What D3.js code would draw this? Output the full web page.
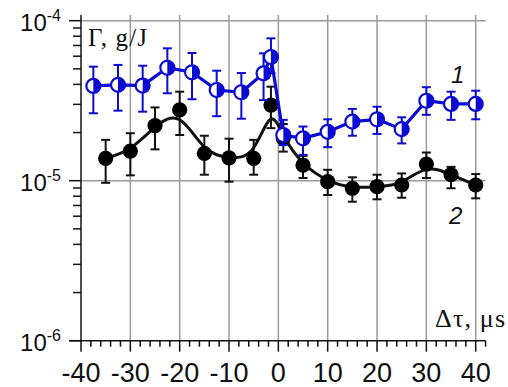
<!DOCTYPE html>
<html>
<head>
<meta charset="utf-8">
<script src="https://cdn.jsdelivr.net/npm/d3@7"></script>
<style>
  body { margin: 0; background: #fff; }
  svg { display: block; }
</style>
</head>
<body>
<div id="chart"></div>
<script>
// curve 1 (blue, half-filled circles)
const blueX = [-37.5, -32.5, -27.5, -22.5, -17.5, -12.5, -7.5, -3, -1.5, 1, 5, 10, 15, 20, 25, 30, 35, 40];
const blueY = [3.91e-5, 3.97e-5, 3.93e-5, 5.08e-5, 4.76e-5, 3.69e-5, 3.57e-5, 4.69e-5, 5.93e-5, 1.93e-5, 1.84e-5, 2.02e-5, 2.34e-5, 2.42e-5, 2.10e-5, 3.16e-5, 3.02e-5, 3.02e-5];
const blueHi = [5.16e-5, 5.29e-5, 5.23e-5, 6.72e-5, 6.28e-5, 4.87e-5, 4.71e-5, 6.25e-5, 7.76e-5, 2.40e-5, 2.18e-5, 2.42e-5, 2.81e-5, 2.90e-5, 2.49e-5, 3.84e-5, 3.60e-5, 3.65e-5];
const blueLo = [2.64e-5, 2.74e-5, 2.70e-5, 3.52e-5, 3.23e-5, 2.53e-5, 2.44e-5, 3.19e-5, 4.71e-5, 1.67e-5, 1.45e-5, 1.62e-5, 1.91e-5, 1.96e-5, 1.71e-5, 2.58e-5, 2.40e-5, 2.42e-5];

// curve 2 (black, filled circles, smoothed line)
const blackX = [-35, -30, -25, -20, -15, -10, -5, -1.5, 1, 5, 10, 15, 20, 25, 30, 35, 40];
const blackY = [1.38e-5, 1.53e-5, 2.21e-5, 2.77e-5, 1.48e-5, 1.39e-5, 1.38e-5, 2.97e-5, 1.84e-5, 1.25e-5, 9.86e-6, 8.97e-6, 9.18e-6, 9.40e-6, 1.27e-5, 1.09e-5, 9.40e-6];
const blackHi = [1.80e-5, 1.98e-5, 2.87e-5, 3.60e-5, 1.91e-5, 1.83e-5, 1.80e-5, 3.87e-5, 2.26e-5, 1.43e-5, 1.17e-5, 1.05e-5, 1.09e-5, 1.11e-5, 1.50e-5, 1.22e-5, 1.10e-5];
const blackLo = [9.7e-6, 1.08e-5, 1.57e-5, 1.93e-5, 1.09e-5, 9.86e-6, 1.09e-5, 2.13e-5, 1.52e-5, 1.04e-5, 8.14e-6, 7.39e-6, 7.65e-6, 7.83e-6, 1.04e-5, 8.97e-6, 7.76e-6];

const xTicks = [-40, -30, -20, -10, 0, 10, 20, 30, 40];
const yDecades = [-6, -5, -4];

const width = 508, height = 387;
const blue = "#0b0bd2";

const svg = d3.select("#chart").append("svg")
  .attr("width", width)
  .attr("height", height);

const x = d3.scaleLinear().domain([-40, 40]).range([81, 475.7]);
const y = d3.scaleLog().domain([1e-6, 1e-4]).range([340.7, 20.7]);

// grid
const grid = svg.append("g").attr("stroke", "#9a9a9a").attr("stroke-width", 1.5);
grid.selectAll(".vg")
  .data(xTicks.filter(d => d > -40))
  .enter().append("line")
  .attr("x1", d => x(d)).attr("x2", d => x(d))
  .attr("y1", 15).attr("y2", y(1e-6));
grid.selectAll(".hg")
  .data([1e-5, 1e-4])
  .enter().append("line")
  .attr("x1", x(-40)).attr("x2", x(42))
  .attr("y1", d => y(d)).attr("y2", d => y(d));

// axes
const ax = svg.append("g").attr("stroke", "#111").attr("stroke-width", 1.5);
ax.append("line").attr("x1", x(-40)).attr("x2", x(-40)).attr("y1", 15).attr("y2", y(1e-6));
ax.append("line").attr("x1", 69).attr("x2", x(42)).attr("y1", y(1e-6)).attr("y2", y(1e-6));

const xMinor = d3.range(-40, 43, 2);
ax.selectAll(".xt")
  .data(xMinor)
  .enter().append("line")
  .attr("x1", d => x(d)).attr("x2", d => x(d))
  .attr("y1", y(1e-6))
  .attr("y2", d => y(1e-6) + (d % 10 === 0 ? 11 : 6));

const yMinor = [];
yDecades.slice(0, 2).forEach(e => {
  for (let k = 2; k <= 9; k++) yMinor.push(k * Math.pow(10, e));
});
ax.selectAll(".ymin")
  .data(yMinor)
  .enter().append("line")
  .attr("x1", x(-40) - 8).attr("x2", x(-40))
  .attr("y1", d => y(d)).attr("y2", d => y(d));
ax.selectAll(".ymaj")
  .data(yDecades)
  .enter().append("line")
  .attr("x1", 69).attr("x2", x(-40))
  .attr("y1", d => y(Math.pow(10, d))).attr("y2", d => y(Math.pow(10, d)));

// tick labels
svg.selectAll(".xl")
  .data(xTicks)
  .enter().append("text")
  .attr("x", d => x(d))
  .attr("y", 382)
  .attr("text-anchor", "middle")
  .attr("font-family", "Liberation Sans, Arial, sans-serif")
  .attr("font-size", 27)
  .attr("fill", "#111")
  .text(d => d);

const yl = svg.selectAll(".yl")
  .data(yDecades)
  .enter().append("text")
  .attr("x", 61)
  .attr("y", d => y(Math.pow(10, d)) + 10.5)
  .attr("text-anchor", "end")
  .attr("font-family", "Liberation Sans, Arial, sans-serif")
  .attr("fill", "#111");
yl.append("tspan").attr("font-size", 24).text("10");
yl.append("tspan").attr("font-size", 16).attr("dy", -10).text(d => "-" + (-d));

// axis titles
svg.append("text")
  .attr("x", 88).attr("y", 46)
  .attr("font-family", "Liberation Serif, Times New Roman, serif")
  .attr("font-size", 25)
  .attr("textLength", 59)
  .attr("lengthAdjust", "spacing")
  .attr("fill", "#111")
  .text("\u0393, g/J");
svg.append("text")
  .attr("x", 435).attr("y", 327)
  .attr("font-family", "Liberation Serif, Times New Roman, serif")
  .attr("font-size", 26)
  .attr("textLength", 70)
  .attr("lengthAdjust", "spacing")
  .attr("fill", "#111")
  .text("\u0394\u03c4, \u03bcs");

// curve labels
svg.append("text")
  .attr("x", 451).attr("y", 83)
  .attr("font-family", "Liberation Sans, Arial, sans-serif")
  .attr("font-style", "italic")
  .attr("font-size", 24)
  .attr("fill", "#111")
  .text("1");
svg.append("text")
  .attr("x", 449).attr("y", 224)
  .attr("font-family", "Liberation Sans, Arial, sans-serif")
  .attr("font-style", "italic")
  .attr("font-size", 24)
  .attr("fill", "#111")
  .text("2");

function pts(xs, ys, hi, lo) {
  return xs.map((d, i) => ({ x: d, y: ys[i], hi: hi[i], lo: lo[i] }));
}
const blackPts = pts(blackX, blackY, blackHi, blackLo);
const bluePts = pts(blueX, blueY, blueHi, blueLo);

function errorBars(g, data, color, w) {
  const e = g.append("g").attr("stroke", color).attr("stroke-width", w);
  e.selectAll(".v").data(data).enter().append("line")
    .attr("x1", d => x(d.x)).attr("x2", d => x(d.x))
    .attr("y1", d => y(d.hi)).attr("y2", d => y(d.lo));
  e.selectAll(".t").data(data).enter().append("line")
    .attr("x1", d => x(d.x) - 4.5).attr("x2", d => x(d.x) + 4.5)
    .attr("y1", d => y(d.hi)).attr("y2", d => y(d.hi));
  e.selectAll(".b").data(data).enter().append("line")
    .attr("x1", d => x(d.x) - 4.5).attr("x2", d => x(d.x) + 4.5)
    .attr("y1", d => y(d.lo)).attr("y2", d => y(d.lo));
}

// series 2 (black)
const gBlack = svg.append("g");
errorBars(gBlack, blackPts, "#111", 2);
gBlack.append("path")
  .datum(blackPts)
  .attr("fill", "none")
  .attr("stroke", "#111")
  .attr("stroke-width", 3)
  .attr("d", d3.line().x(d => x(d.x)).y(d => y(d.y)).curve(d3.curveBasis));
gBlack.selectAll("circle").data(blackPts).enter().append("circle")
  .attr("cx", d => x(d.x)).attr("cy", d => y(d.y))
  .attr("r", 7.6)
  .attr("fill", "#000");

// series 1 (blue)
const gBlue = svg.append("g");
errorBars(gBlue, bluePts, blue, 2);
gBlue.append("path")
  .datum(bluePts)
  .attr("fill", "none")
  .attr("stroke", blue)
  .attr("stroke-width", 3.2)
  .attr("d", d3.line().x(d => x(d.x)).y(d => y(d.y)));
const r = 7;
const mk = gBlue.selectAll(".mk").data(bluePts).enter().append("g")
  .attr("transform", d => `translate(${x(d.x)},${y(d.y)})`);
mk.append("circle").attr("r", r).attr("fill", "#fff");
mk.append("path")
  .attr("d", `M0,${-r}A${r},${r} 0 0,1 0,${r}Z`)
  .attr("fill", blue);
mk.append("circle").attr("r", r).attr("fill", "none")
  .attr("stroke", blue).attr("stroke-width", 2.2);
</script>
</body>
</html>
